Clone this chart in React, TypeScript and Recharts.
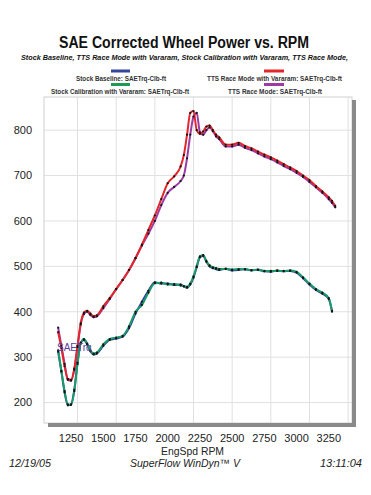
import { LineChart, Line, XAxis, YAxis, CartesianGrid } from "recharts";

const RPM = [
  1150, 1175, 1200, 1225, 1250, 1275, 1300, 1325, 1350, 1375, 1400, 1425, 1450,
  1500, 1550, 1600, 1650, 1700, 1750, 1800, 1850, 1900, 1950, 2000, 2050, 2100,
  2125, 2150, 2175, 2200, 2225, 2250, 2275, 2300, 2325, 2350, 2375, 2400,
  2450, 2500, 2550, 2600, 2650, 2700, 2750, 2800, 2850, 2900, 2950, 3000, 3050, 3100, 3150, 3200, 3250,
  3275, 3300,
];

const stockBaseline = [
  312, 268, 222, 194, 196, 228, 288, 332, 338, 328, 313, 306, 308,
  325, 338, 341, 345, 364, 396, 422, 446, 465, 462, 462, 459, 460,
  456, 453, 460, 475, 498, 520, 523, 510, 500, 496, 494, 492,
  495, 491, 492, 494, 491, 493, 489, 488, 491, 489, 490, 486, 474, 460, 448, 440, 428,
  400, null,
];

const ttsVararam = [
  355, 320, 280, 252, 250, 275, 325, 375, 398, 402, 396, 390, 392,
  412, 430, 450, 470, 492, 518, 548, 580, 612, 648, 683, 698, 720,
  745, 790, 838, 842, 800, 792, 797, 808, 810, 800, 790, 784,
  768, 768, 772, 765, 760, 753, 746, 740, 733, 725, 718, 710, 700, 690, 677, 665, 652,
  644, 633,
];

const stockCalVararam = [
  315, 270, 225, 196, 195, 225, 285, 330, 340, 330, 315, 308, 310,
  328, 340, 343, 347, 368, 400, 415, 442, 463, 464, 460, 461, 458,
  456, 455, 462, 478, 500, 522, 525, 512, 502, 498, 496, 494,
  494, 493, 494, 493, 492, 492, 490, 490, 490, 490, 491, 488, 476, 462, 450, 442, 430,
  402, null,
];

const ttsRace = [
  365, 325, 285, 250, 248, 272, 322, 372, 395, 400, 393, 388, 390,
  408, 428, 450, 470, 492, 518, 546, 572, 600, 635, 662, 675, 688,
  700, 738, 790, 830, 838, 795, 790, 800, 806, 798, 786, 780,
  764, 764, 768, 761, 756, 749, 742, 736, 729, 721, 714, 706, 697, 686, 674, 662, 648,
  640, 630,
];

const xTicks = [1250, 1500, 1750, 2000, 2250, 2500, 2750, 3000, 3250];
const yTicks = [200, 300, 400, 500, 600, 700, 800];
const xGrid = [
  1050, 1100, 1150, 1200, 1250, 1300, 1350, 1400, 1450, 1500, 1550, 1600, 1650, 1700,
  1750, 1800, 1850, 1900, 1950, 2000, 2050, 2100, 2150, 2200, 2250, 2300, 2350, 2400,
  2450, 2500, 2550, 2600, 2650, 2700, 2750, 2800, 2850, 2900, 2950, 3000, 3050, 3100,
  3150, 3200, 3250, 3300, 3350, 3400,
];

const data = RPM.map((rpm, i) => ({
  rpm,
  baseline: stockBaseline[i],
  ttsVar: ttsVararam[i],
  stockVar: stockCalVararam[i],
  tts: ttsRace[i],
}));

const font = "'Liberation Sans', Arial, sans-serif";
const dot = { r: 1.1, fill: "#151515", stroke: "none" };

export default function App() {
  return (
    <div style={{ position: "absolute", left: 0, top: 0, width: 371, height: 495, background: "#fff", fontFamily: font }}>
      <LineChart
        width={371}
        height={495}
        data={data}
        margin={{ top: 97, right: 19, bottom: 52, left: 4 }}
      >
        <CartesianGrid
          stroke="#e0e0e0"
          strokeWidth={1}
          verticalValues={xGrid}
          horizontalValues={yTicks}
        />
        <XAxis
          type="number"
          dataKey="rpm"
          domain={[1040, 3430]}
          ticks={xTicks}
          height={20}
          tickLine={false}
          axisLine={false}
          tickMargin={5}
          tick={{ fontSize: 11, fill: "#222", fontFamily: font }}
        />
        <YAxis
          type="number"
          domain={[155, 873]}
          ticks={yTicks}
          width={40}
          tickLine={false}
          axisLine={false}
          tickMargin={6}
          tick={{ fontSize: 11, fill: "#222", fontFamily: font }}
        />
        <Line type="monotone" dataKey="baseline" stroke="#33479a" strokeWidth={2} dot={dot} isAnimationActive={false} />
        <Line type="monotone" dataKey="tts" stroke="#9b3ba3" strokeWidth={2} dot={dot} isAnimationActive={false} />
        <Line type="monotone" dataKey="ttsVar" stroke="#e3262a" strokeWidth={2} dot={dot} isAnimationActive={false} />
        <Line type="monotone" dataKey="stockVar" stroke="#1c9b6a" strokeWidth={2} dot={dot} isAnimationActive={false} />
      </LineChart>

      <svg width={371} height={495} style={{ position: "absolute", left: 0, top: 0, pointerEvents: "none" }}>
        {/* frame with shadow */}
        <rect x={44} y={97} width={308} height={326} fill="none" stroke="#d0d0d0" />
        <rect x={352} y={100} width={4} height={327} fill="#8a8a8a" />
        <rect x={48} y={423} width={308} height={4} fill="#8a8a8a" />

        <text x={59} y={48} fontSize={16} fontWeight="bold" fill="#111" textLength={250} lengthAdjust="spacingAndGlyphs">
          SAE Corrected Wheel Power vs. RPM
        </text>
        <text x={21} y={60} fontSize={7.6} fontWeight="bold" fontStyle="italic" fill="#111" textLength={327} lengthAdjust="spacingAndGlyphs">
          Stock Baseline, TTS Race Mode with Vararam, Stock Calibration with Vararam, TTS Race Mode,
        </text>

        <rect x={111} y={69.5} width={19} height={3} fill="#33479a" />
        <text x={76} y={80.5} fontSize={7} fontWeight="bold" fill="#333" textLength={90} lengthAdjust="spacingAndGlyphs">Stock Baseline: SAETrq-Clb-ft</text>
        <rect x={264} y={69.5} width={20} height={3} fill="#e3262a" />
        <text x={207} y={80.5} fontSize={7} fontWeight="bold" fill="#333" textLength={135} lengthAdjust="spacingAndGlyphs">TTS Race Mode with Vararam: SAETrq-Clb-ft</text>
        <rect x={111} y={83} width={19} height={3} fill="#1c9b55" />
        <text x={51} y={93.5} fontSize={7} fontWeight="bold" fill="#333" textLength={138} lengthAdjust="spacingAndGlyphs">Stock Calibration with Vararam: SAETrq-Clb-ft</text>
        <rect x={264} y={83} width={20} height={3} fill="#9b3ba3" />
        <text x={228} y={93.5} fontSize={7} fontWeight="bold" fill="#333" textLength={94} lengthAdjust="spacingAndGlyphs">TTS Race Mode: SAETrq-Clb-ft</text>

        <text x={57} y={351} fontSize={10} fill="#5a3f9a">SAETrq</text>

        <text x={161} y={455} fontSize={11} fill="#222" textLength={63} lengthAdjust="spacingAndGlyphs">EngSpd  RPM</text>
        <text x={9} y={467} fontSize={11} fontStyle="italic" fill="#222" textLength={42} lengthAdjust="spacingAndGlyphs">12/19/05</text>
        <text x={130} y={467} fontSize={11} fontStyle="italic" fill="#222" textLength={110} lengthAdjust="spacingAndGlyphs">SuperFlow WinDyn™ V</text>
        <text x={320} y={467} fontSize={11} fontStyle="italic" fill="#222" textLength={42} lengthAdjust="spacingAndGlyphs">13:11:04</text>
      </svg>
    </div>
  );
}
